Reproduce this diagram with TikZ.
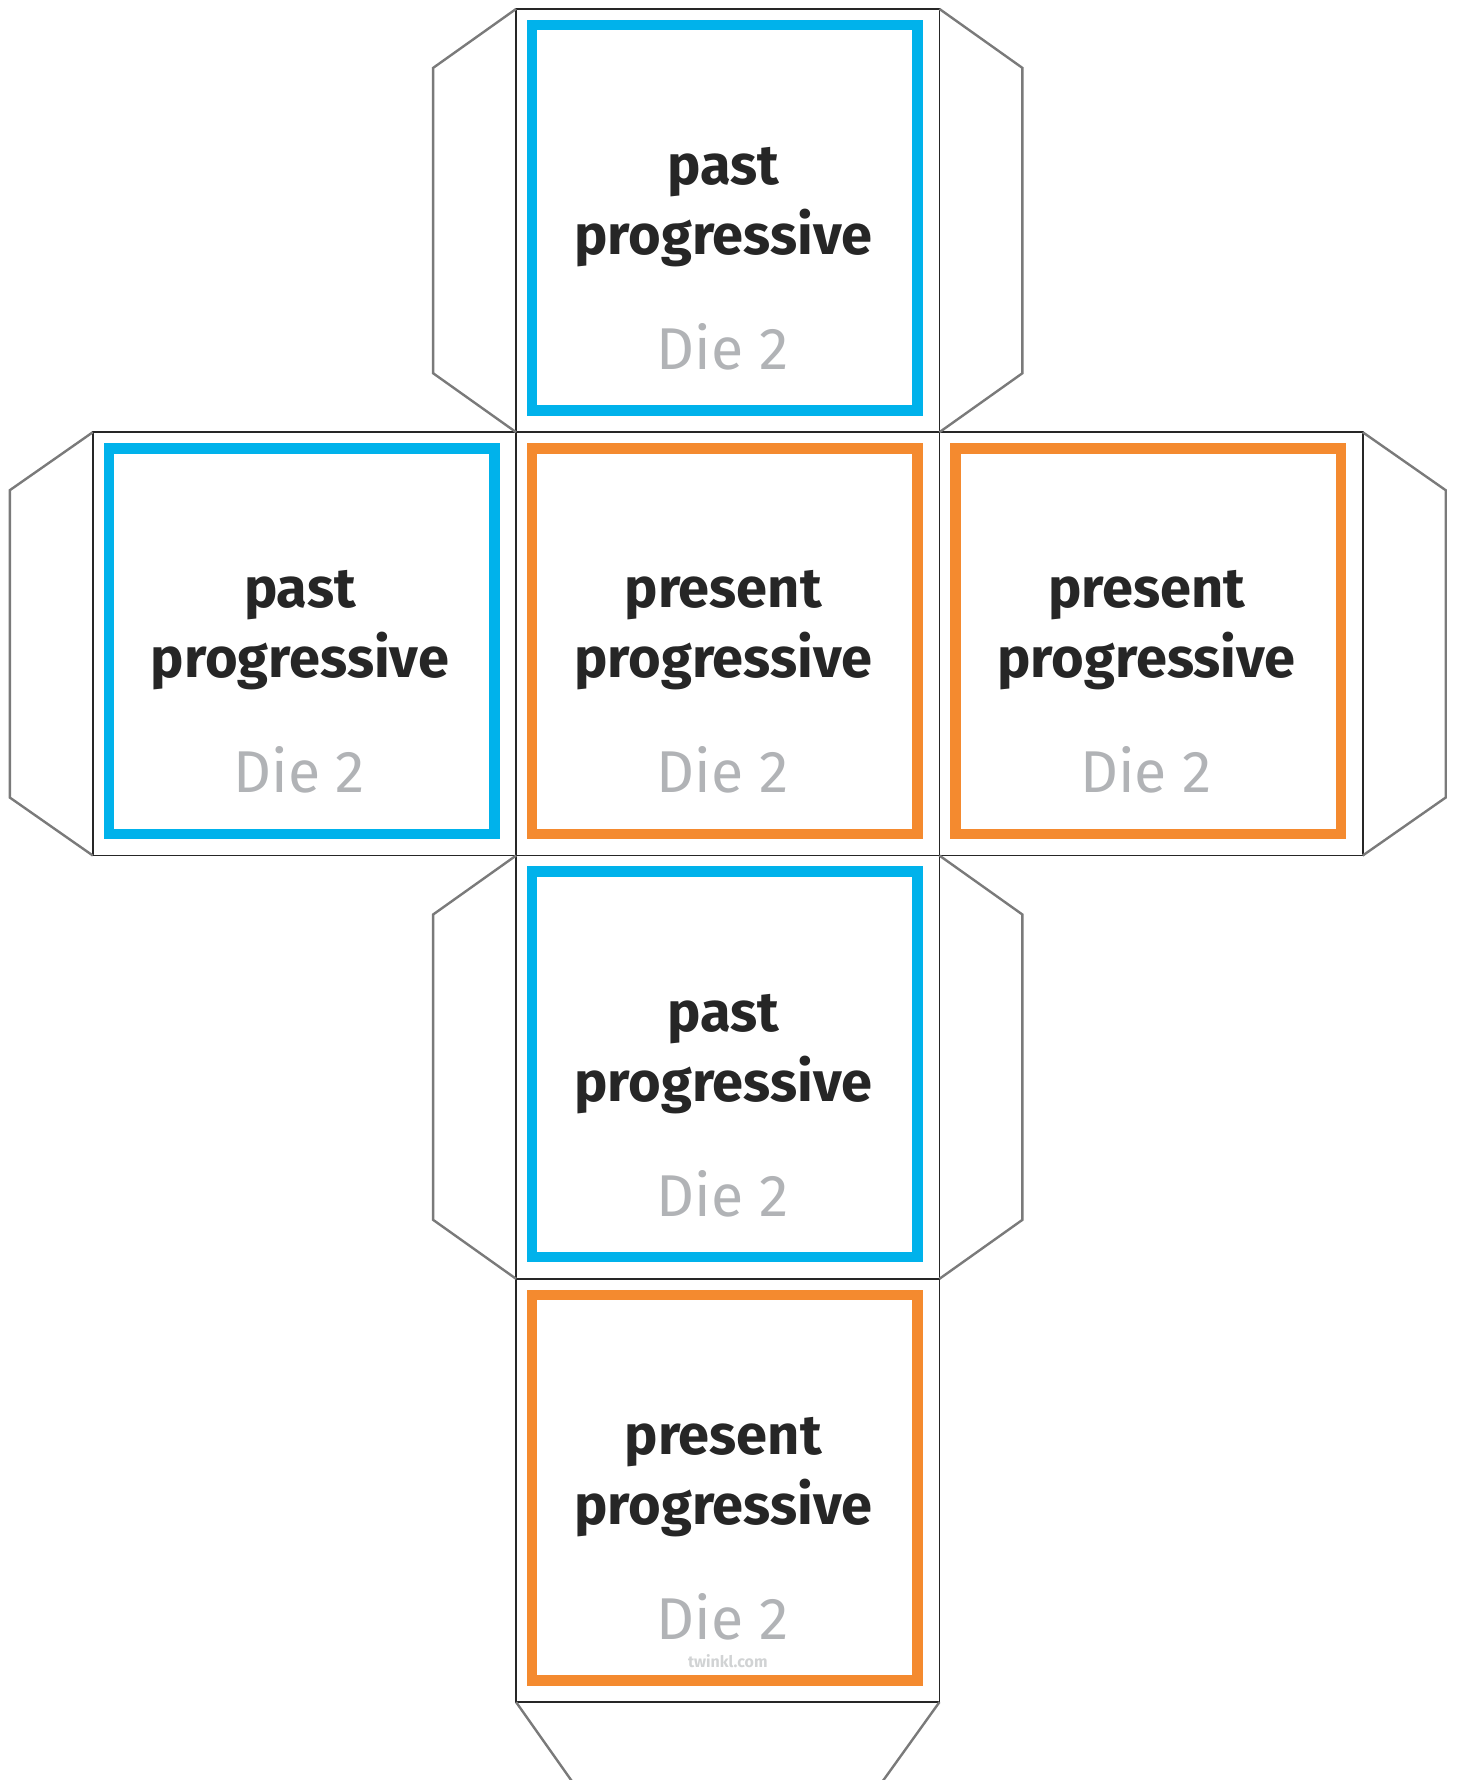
\documentclass[tikz,border=0pt]{standalone}
\usepackage{fontspec}
\setmainfont{Fira Sans}
\usetikzlibrary{positioning}
\definecolor{dieblue}{HTML}{00B2EB}
\definecolor{dieorange}{HTML}{F48A2F}
\definecolor{inkdark}{HTML}{262626}
\definecolor{diegrey}{HTML}{B1B3B6}
\definecolor{tabgrey}{HTML}{7A7A7A}
\definecolor{markgrey}{HTML}{D1D3D4}
\begin{document}
\begin{tikzpicture}[x=0.5pt, y=0.5pt]
    \tikzset{
    face/.style={
        rectangle,
        draw=inkdark,
        line width=0.9pt,
        minimum size=211.65pt,
        inner sep=0pt,
        outer sep=0pt
    },
    card/.style={
        rectangle,
        draw=#1,
        line width=5.25pt,
        minimum size=192.75pt,
        inner sep=0pt,
        xshift=-1.45pt, yshift=1.4pt
    },
    tense/.style={
        font=\fontsize{28}{35}\selectfont\bfseries, text=inkdark,
        align=center, anchor=base, xshift=-2.25pt, yshift=-17pt
    },
    dielabel/.style={
        font=\fontsize{29.5}{32}\selectfont, text=diegrey,
        anchor=base, xshift=-2.6pt, yshift=-74.5pt
    },
    tab/.style={
        draw=tabgrey, line width=1.2pt
    }
}
    \useasboundingbox (0,0) rectangle (1457,1780);

    % Faces
    \node[face] (mid) at (727.75,1136.1) {};
    \node[face, above=0pt of mid] (up) {};
    \node[face, left=0pt of mid] (lft) {};
    \node[face, right=0pt of mid] (rgt) {};
    \node[face, below=0pt of mid] (dn) {};
    \node[face, below=0pt of dn] (foot) {};

    % Tabs
    \draw[tab] (up.north west) -- ++(-83,-59) -- ++(0,-305.3) -- (up.south west);
    \draw[tab] (up.north east) -- ++(83,-59) -- ++(0,-305.3) -- (up.south east);
    \draw[tab] (lft.north west) -- ++(-83,-58) -- ++(0,-307.3) -- (lft.south west);
    \draw[tab] (rgt.north east) -- ++(83,-58) -- ++(0,-307.3) -- (rgt.south east);
    \draw[tab] (dn.north west) -- ++(-83,-59) -- ++(0,-305.3) -- (dn.south west);
    \draw[tab] (dn.north east) -- ++(83,-59) -- ++(0,-305.3) -- (dn.south east);
    \draw[tab] (foot.south west) -- ++(60,-85);
    \draw[tab] (foot.south east) -- ++(-61,-85);

    % Cards
    \node[card=dieblue] (upC) at (up) {};
    \node[card=dieblue] (lftC) at (lft) {};
    \node[card=dieorange] (midC) at (mid) {};
    \node[card=dieorange] (rgtC) at (rgt) {};
    \node[card=dieblue] (dnC) at (dn) {};
    \node[card=dieorange] (footC) at (foot) {};

    % Texts
    \node[tense] (upT) at (up) {past\\progressive};
    \node[tense] (lftT) at (lft) {past\\progressive};
    \node[tense] (midT) at (mid) {present\\progressive};
    \node[tense] (rgtT) at (rgt) {present\\progressive};
    \node[tense] (dnT) at (dn) {past\\progressive};
    \node[tense] (footT) at (foot) {present\\progressive};
    \node[dielabel] (upD) at (up) {Die 2};
    \node[dielabel] (lftD) at (lft) {Die 2};
    \node[dielabel] (midD) at (mid) {Die 2};
    \node[dielabel] (rgtD) at (rgt) {Die 2};
    \node[dielabel] (dnD) at (dn) {Die 2};
    \node[dielabel] (footD) at (foot) {Die 2};
    \node[font=\fontsize{8}{8}\selectfont\bfseries, text=markgrey, anchor=base, yshift=-88.75pt] (mark) at (foot) {twinkl.com};
\end{tikzpicture}
\end{document}
